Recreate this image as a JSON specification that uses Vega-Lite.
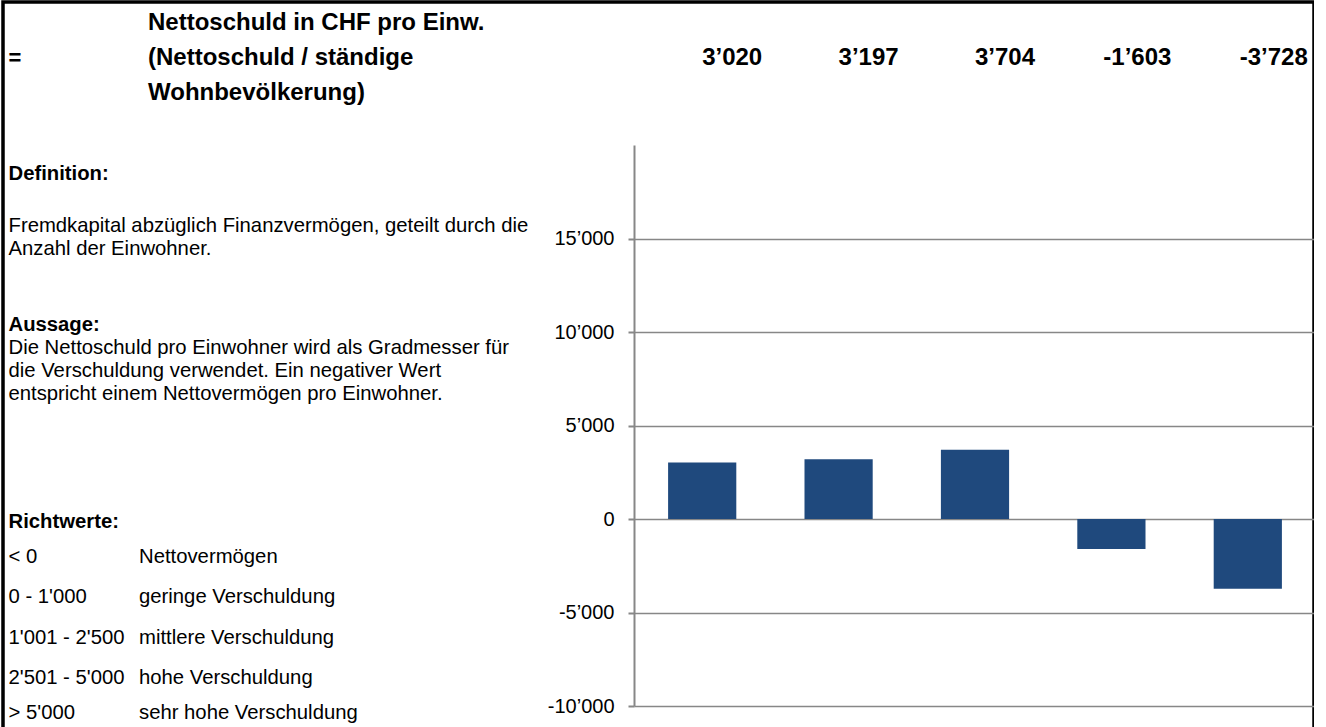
{
  "$schema": "https://vega.github.io/schema/vega-lite/v6.json",
  "autosize": {"type": "none"},
  "padding": {"left": 3, "top": 2, "right": 0, "bottom": 0},
  "width": 1311,
  "height": 725,
  "background": "white",
  "config": {
    "font": "Liberation Sans",
    "view": {"stroke": "black", "strokeWidth": 3.5, "strokeDash": [2036, 1311, 740]}
  },
  "datasets": {
    "werte": [
      {"label": "3’020", "wert": 3020},
      {"label": "3’197", "wert": 3197},
      {"label": "3’704", "wert": 3704},
      {"label": "-1’603", "wert": -1603},
      {"label": "-3’728", "wert": -3728}
    ],
    "texte": [
      {"art": "titel", "spalte": 2, "zeile": 0, "text": "Nettoschuld in CHF pro Einw."},
      {"art": "titel", "spalte": 2, "zeile": 6, "text": "(Nettoschuld / ständige"},
      {"art": "titel", "spalte": 2, "zeile": 12, "text": "Wohnbevölkerung)"},
      {"art": "gleich", "spalte": 1, "zeile": 6, "text": "="},
      {"art": "abschnitt", "spalte": 1, "zeile": 26, "text": "Definition:"},
      {"art": "abschnitt", "spalte": 1, "zeile": 52, "text": "Aussage:"},
      {"art": "abschnitt", "spalte": 1, "zeile": 86, "text": "Richtwerte:"},
      {"art": "text", "spalte": 1, "zeile": 35, "text": "Fremdkapital abzüglich Finanzvermögen, geteilt durch die"},
      {"art": "text", "spalte": 1, "zeile": 39, "text": "Anzahl der Einwohner."},
      {"art": "text", "spalte": 1, "zeile": 56, "text": "Die Nettoschuld pro Einwohner wird als Gradmesser für"},
      {"art": "text", "spalte": 1, "zeile": 60, "text": "die Verschuldung verwendet. Ein negativer Wert"},
      {"art": "text", "spalte": 1, "zeile": 64, "text": "entspricht einem Nettovermögen pro Einwohner."},
      {"art": "text", "spalte": 1, "zeile": 92, "text": "< 0"},
      {"art": "text", "spalte": 1, "zeile": 99, "text": "0 - 1'000"},
      {"art": "text", "spalte": 1, "zeile": 106, "text": "1'001 - 2'500"},
      {"art": "text", "spalte": 1, "zeile": 113, "text": "2'501 - 5'000"},
      {"art": "text", "spalte": 1, "zeile": 119, "text": "> 5'000"},
      {"art": "text", "spalte": 2, "zeile": 92, "text": "Nettovermögen"},
      {"art": "text", "spalte": 2, "zeile": 99, "text": "geringe Verschuldung"},
      {"art": "text", "spalte": 2, "zeile": 106, "text": "mittlere Verschuldung"},
      {"art": "text", "spalte": 2, "zeile": 113, "text": "hohe Verschuldung"},
      {"art": "text", "spalte": 2, "zeile": 119, "text": "sehr hohe Verschuldung"}
    ]
  },
  "layer": [
    {
      "data": {"name": "werte"},
      "mark": {"type": "bar", "color": "#1f497d"},
      "encoding": {
        "x": {
          "field": "label", "type": "nominal", "sort": null,
          "scale": {"range": [631, 1313], "paddingInner": 0.5, "paddingOuter": 0.25},
          "axis": {
            "orient": "top", "offset": -55, "domain": false, "ticks": false, "tickSize": 0,
            "grid": false, "title": null, "labelAngle": 0,
            "labelFontSize": 24, "labelFontWeight": "bold", "labelColor": "black",
            "labelAlign": "right", "labelBaseline": "middle", "labelOffset": 60,
            "labelPadding": 0, "labelOverlap": false, "labelFlush": false
          }
        },
        "y": {
          "field": "wert", "type": "quantitative",
          "scale": {"domain": [-10000, 20000], "range": [704, 143], "nice": false},
          "axis": {
            "orient": "left", "offset": -631, "title": null,
            "values": [-10000, -5000, 0, 5000, 10000, 15000],
            "labelExpr": "replace(replace(format(datum.value, ','), ',', '’'), '−', '-')",
            "domainColor": "#878787", "domainWidth": 2,
            "tickColor": "#878787", "tickWidth": 2, "tickSize": 6,
            "grid": true, "gridColor": "#878787", "gridWidth": 1.5,
            "labelFontSize": 20, "labelColor": "black", "labelPadding": 14
          }
        }
      }
    },
    {
      "data": {"name": "texte"},
      "transform": [{"filter": "datum.art === 'titel'"}],
      "mark": {"type": "text", "align": "left", "baseline": "middle", "fontSize": 24, "fontWeight": "bold", "dx": 9, "color": "black"},
      "encoding": {
        "x": {"field": "spalte", "type": "quantitative", "scale": {"domain": [1, 2], "range": [5.5, 136]}, "axis": null},
        "y": {"field": "zeile", "type": "quantitative", "scale": {"domain": [0, 120], "range": [21, 717]}, "axis": null},
        "text": {"field": "text"}
      }
    },
    {
      "data": {"name": "texte"},
      "transform": [{"filter": "datum.art === 'gleich'"}],
      "mark": {"type": "text", "align": "left", "baseline": "middle", "fontSize": 22, "fontWeight": "bold", "color": "black"},
      "encoding": {
        "x": {"field": "spalte", "type": "quantitative", "scale": {"domain": [1, 2], "range": [5.5, 136]}, "axis": null},
        "y": {"field": "zeile", "type": "quantitative", "scale": {"domain": [0, 120], "range": [21, 717]}, "axis": null},
        "text": {"field": "text"}
      }
    },
    {
      "data": {"name": "texte"},
      "transform": [{"filter": "datum.art === 'abschnitt'"}],
      "mark": {"type": "text", "align": "left", "baseline": "middle", "fontSize": 20.3, "fontWeight": "bold", "color": "black"},
      "encoding": {
        "x": {"field": "spalte", "type": "quantitative", "scale": {"domain": [1, 2], "range": [5.5, 136]}, "axis": null},
        "y": {"field": "zeile", "type": "quantitative", "scale": {"domain": [0, 120], "range": [21, 717]}, "axis": null},
        "text": {"field": "text"}
      }
    },
    {
      "data": {"name": "texte"},
      "transform": [{"filter": "datum.art === 'text'"}],
      "mark": {"type": "text", "align": "left", "baseline": "middle", "fontSize": 20.3, "color": "black"},
      "encoding": {
        "x": {"field": "spalte", "type": "quantitative", "scale": {"domain": [1, 2], "range": [5.5, 136]}, "axis": null},
        "y": {"field": "zeile", "type": "quantitative", "scale": {"domain": [0, 120], "range": [21, 717]}, "axis": null},
        "text": {"field": "text"}
      }
    }
  ],
  "resolve": {"scale": {"x": "independent", "y": "independent"}}
}
